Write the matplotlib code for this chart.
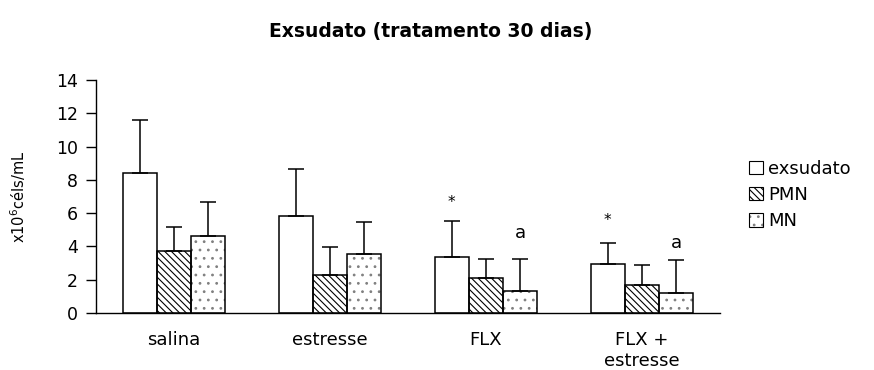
import matplotlib
matplotlib.use("Agg")
import matplotlib.pyplot as plt
import numpy as np
from matplotlib.patches import Patch
from matplotlib.legend_handler import HandlerTuple

plt.rcParams['font.family'] = ['DejaVu Sans']
plt.rcParams['hatch.linewidth'] = 0.8

categories = ["salina", "estresse", "FLX", "FLX +\nestresse"]
series = ["exsudato", "PMN", "MN"]
exsudato_mean = [8.4, 5.85, 3.35, 2.93]
exsudato_sd = [3.2, 2.8, 2.2, 1.29]
pmn_mean = [3.74, 2.30, 2.09, 1.70]
pmn_sd = [1.4, 1.65, 1.17, 1.2]
mn_mean = [4.65, 3.53, 1.30, 1.18]
mn_sd = [2.0, 1.96, 1.96, 2.02]
yticks = [0, 2, 4, 6, 8, 10, 12, 14]
# significance marks: (category index, series index, text, y level)
marks = [(2, 0, "*", 6.93), (3, 0, "*", 5.83), (2, 2, "a", 4.81), (3, 2, "a", 4.2)]

means = [exsudato_mean, pmn_mean, mn_mean]
sds = [exsudato_sd, pmn_sd, mn_sd]
hatches = [None, "\\\\\\\\\\", ".."]
hatch_colors = ["black", "black", "#808080"]

fig = plt.figure(figsize=(8.74, 3.70), dpi=100)
ax = fig.add_axes([96/874, 1-313/370, (720-96)/874, (313-80)/370])

x = np.arange(len(categories))
w = 0.22
offsets = [-w, 0, w]
for i in range(3):
    m = np.array(means[i]); s = np.array(sds[i])
    if hatches[i]:
        ax.bar(x + offsets[i], m, width=w, color="white", edgecolor=hatch_colors[i],
               linewidth=0, hatch=hatches[i], zorder=2)
    ax.bar(x + offsets[i], m, width=w, color="none", edgecolor="black",
           linewidth=1.1, zorder=2.5)
    ax.errorbar(x + offsets[i], m, yerr=[np.zeros_like(s), s], fmt="none",
                ecolor="black", elinewidth=1.1, capsize=5.5, capthick=1.1, zorder=3)

handles = []
for i in range(3):
    outline = Patch(facecolor="none", edgecolor="black", linewidth=0.8)
    if hatches[i]:
        fill = Patch(facecolor="white", edgecolor=hatch_colors[i], linewidth=0,
                     hatch=hatches[i])
        handles.append((fill, outline))
    else:
        handles.append((Patch(facecolor="white", edgecolor="black", linewidth=0.8),))

for (ci, si, txt, yv) in marks:
    if txt == "*":
        ax.text(x[ci] + offsets[si], yv - 0.55, txt, ha="center", va="baseline", fontsize=11)
    else:
        ax.text(x[ci] + offsets[si], yv - 0.3, txt, ha="center", va="baseline", fontsize=13)

ax.set_xlim(-0.5, 3.5)
ax.set_ylim(0, 14)
ax.set_yticks(yticks)
ax.set_xticks(x)
ax.set_xticklabels(categories, fontsize=13, linespacing=1.2, va="top")
ax.tick_params(axis="x", length=0, pad=13)
ax.tick_params(axis="y", length=7, width=1.0, labelsize=12.5, pad=6)
ax.spines["top"].set_visible(False)
ax.spines["right"].set_visible(False)
ax.spines["left"].set_linewidth(1.0)
ax.spines["bottom"].set_linewidth(1.0)
ax.set_ylabel(r"x10$^{6}$céls/mL", fontsize=10.5)
ax.yaxis.set_label_coords((28-96)/624, 0.5)

fig.text(431/874, 1-32/370, "Exsudato (tratamento 30 dias)", ha="center", va="center",
         fontsize=13.5, fontweight="bold")

ax.legend(handles=handles, labels=series, handler_map={tuple: HandlerTuple(ndivide=1, pad=0)},
          loc="upper left", bbox_to_anchor=(749/874, 1-160/370),
          bbox_transform=fig.transFigure, frameon=False, fontsize=13,
          handlelength=0.75, handleheight=0.75, handletextpad=0.3,
          labelspacing=0.45, borderaxespad=0, borderpad=0)

fig.savefig("out.png", dpi=100)
